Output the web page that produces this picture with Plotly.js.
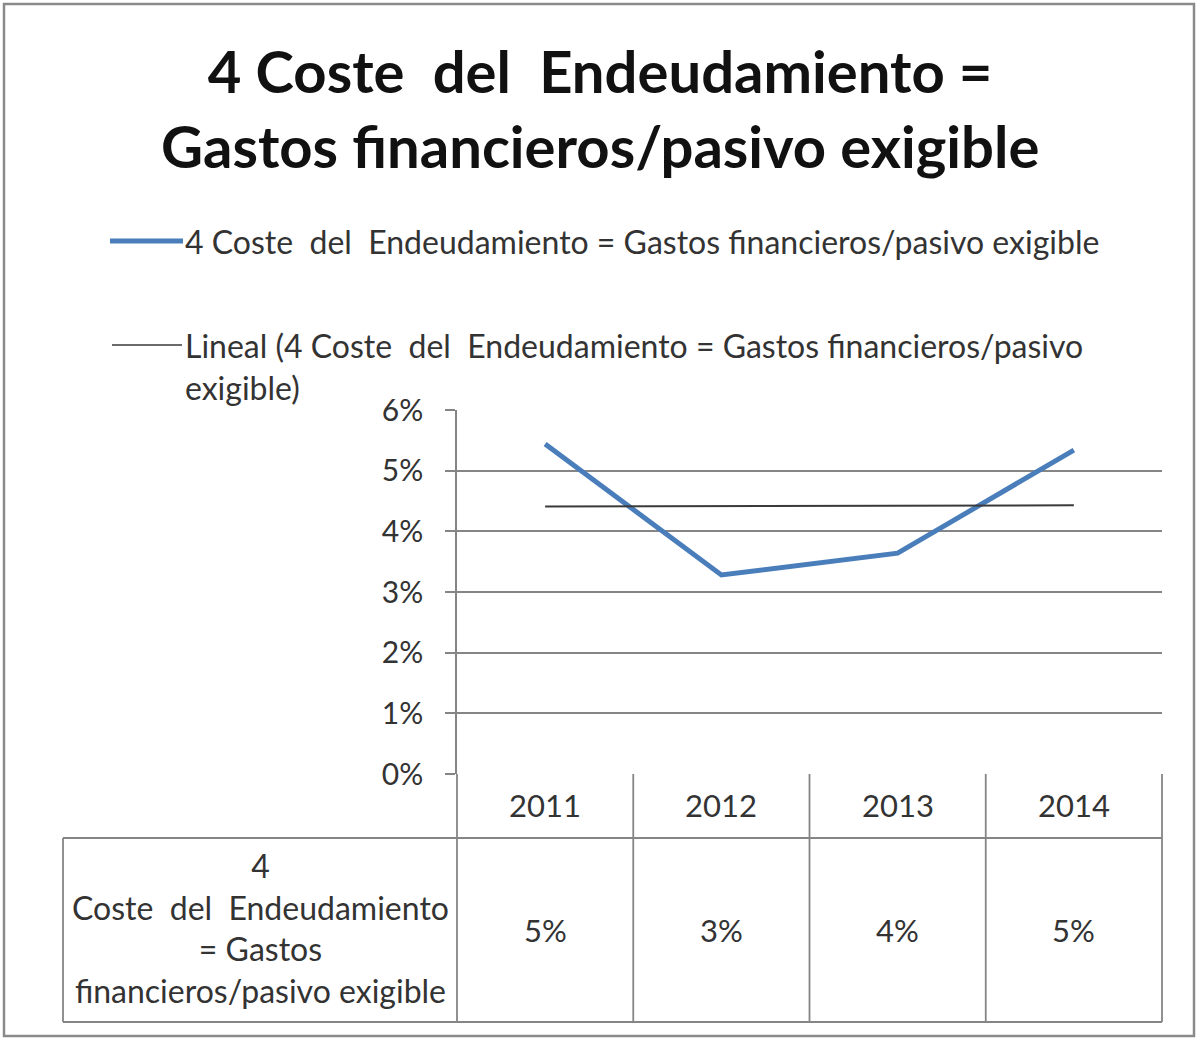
<!DOCTYPE html>
<html>
<head>
<meta charset="utf-8">
<script src="https://cdn.plot.ly/plotly-3.0.1.min.js"></script>
<style>
  html, body { margin: 0; padding: 0; background: #ffffff; }
  #chart { width: 1198px; height: 1039px; }
</style>
</head>
<body>
<div id="chart"></div>
<script>
// ---- data ----
const years = ['2011', '2012', '2013', '2014'];
const coste = [0.0544, 0.0328, 0.0364, 0.0534];
const trendYears = ['2011', '2014'];
const trendValues = [0.0441, 0.0443];
const yTicks = [0, 0.01, 0.02, 0.03, 0.04, 0.05, 0.06];
const titleLines = ['4 Coste\u00a0 del\u00a0 Endeudamiento =', 'Gastos financieros/pasivo exigible'];
const seriesName = '4 Coste\u00a0 del\u00a0 Endeudamiento = Gastos financieros/pasivo exigible';
const trendNameLines = ['Lineal (4 Coste\u00a0 del\u00a0 Endeudamiento = Gastos financieros/pasivo', 'exigible)'];
const rowLabelLines = ['4', 'Coste\u00a0 del\u00a0 Endeudamiento', '= Gastos', 'financieros/pasivo exigible'];

// ---- geometry ----
const W = 1198, H = 1039;
const L = 457, R = 1162, T = 410, B = 774;
const px = x => (x - L) / (R - L);
const py = y => (B - y) / (B - T);
const FONT = 'Lato, "Open Sans", sans-serif';
const GRID = '#858585';
const TXT = '#333333';

const traces = [
  {
    x: years, y: coste, type: 'scatter', mode: 'lines', name: seriesName,
    line: { color: '#4a7ebb', width: 5 }, hoverinfo: 'x+y'
  },
  {
    x: trendYears, y: trendValues, type: 'scatter', mode: 'lines', name: trendNameLines.join(' '),
    line: { color: '#3a3a3a', width: 2 }, hoverinfo: 'skip'
  }
];

const shapes = [];
const annotations = [];

// outer frame
shapes.push({ type: 'rect', xref: 'paper', yref: 'paper',
  x0: px(4), x1: px(1194), y0: py(1036), y1: py(4),
  line: { color: '#8a8a8a', width: 2.5 }, layer: 'below' });

// data table lines
const tableLine = { color: GRID, width: 1.8 };
const headerBottom = 838, tableBottom = 1022, labelLeft = 63;
for (let i = 0; i <= years.length; i++) {
  const xp = i / years.length;
  shapes.push({ type: 'line', xref: 'paper', yref: 'paper', x0: xp, x1: xp,
    y0: py(B), y1: py(tableBottom), line: tableLine });
}
shapes.push({ type: 'line', xref: 'paper', yref: 'paper', x0: px(labelLeft), x1: 1,
  y0: py(headerBottom), y1: py(headerBottom), line: tableLine });
shapes.push({ type: 'line', xref: 'paper', yref: 'paper', x0: px(labelLeft), x1: 1,
  y0: py(tableBottom), y1: py(tableBottom), line: tableLine });
shapes.push({ type: 'line', xref: 'paper', yref: 'paper', x0: px(labelLeft), x1: px(labelLeft),
  y0: py(headerBottom), y1: py(tableBottom), line: tableLine });

// years in header row and values in data row (positioned on the category axis)
years.forEach((yr, i) => {
  annotations.push({ xref: 'x', yref: 'paper', x: i, y: py(805), text: yr,
    showarrow: false, xanchor: 'center', yanchor: 'middle',
    font: { family: FONT, size: 31, color: TXT } });
  annotations.push({ xref: 'x', yref: 'paper', x: i, y: py(930),
    text: Math.round(coste[i] * 100) + '%',
    showarrow: false, xanchor: 'center', yanchor: 'middle',
    font: { family: FONT, size: 31, color: TXT } });
});
// row label
annotations.push({ xref: 'paper', yref: 'paper', x: px(260), y: py(928),
  text: rowLabelLines.join('<br>'), showarrow: false, xanchor: 'center', yanchor: 'middle',
  align: 'center', font: { family: FONT, size: 32, color: TXT } });

// title
annotations.push({ xref: 'paper', yref: 'paper', x: px(600), y: py(108),
  text: '<b>' + titleLines.join('<br>') + '</b>', showarrow: false,
  xanchor: 'center', yanchor: 'middle', align: 'center',
  font: { family: FONT, size: 58, color: '#111111' } });

// legend (manual)
shapes.push({ type: 'line', xref: 'paper', yref: 'paper', x0: px(110), x1: px(183),
  y0: py(241), y1: py(241), line: { color: '#4a7ebb', width: 5 } });
annotations.push({ xref: 'paper', yref: 'paper', x: px(183), y: py(241),
  text: seriesName, showarrow: false, xanchor: 'left', yanchor: 'middle',
  font: { family: FONT, size: 32, color: TXT } });
shapes.push({ type: 'line', xref: 'paper', yref: 'paper', x0: px(112), x1: px(182),
  y0: py(345), y1: py(345), line: { color: '#3a3a3a', width: 1.5 } });
annotations.push({ xref: 'paper', yref: 'paper', x: px(183), y: py(366),
  text: trendNameLines.join('<br>'), showarrow: false, xanchor: 'left', yanchor: 'middle',
  align: 'left', font: { family: FONT, size: 32, color: TXT } });

const layout = {
  width: W, height: H,
  margin: { l: L, r: W - R, t: T, b: H - B, pad: 0 },
  paper_bgcolor: '#ffffff', plot_bgcolor: '#ffffff',
  showlegend: false,
  xaxis: {
    type: 'category', range: [-0.5, 3.5], showticklabels: false,
    showgrid: false, zeroline: false, showline: false, ticks: '', fixedrange: true
  },
  yaxis: {
    range: [0, 0.06], tickvals: yTicks, tickformat: '.0%',
    showgrid: true, gridcolor: GRID, gridwidth: 1.8,
    zeroline: false, showline: true, linecolor: GRID, linewidth: 1.8,
    ticks: 'outside', ticklen: 10, tickcolor: GRID, tickwidth: 1.8,
    ticklabelstandoff: 16,
    tickfont: { family: FONT, size: 30, color: TXT }, fixedrange: true
  },
  shapes: shapes,
  annotations: annotations
};

Plotly.newPlot('chart', traces, layout, { displayModeBar: false, staticPlot: true });
</script>
</body>
</html>
